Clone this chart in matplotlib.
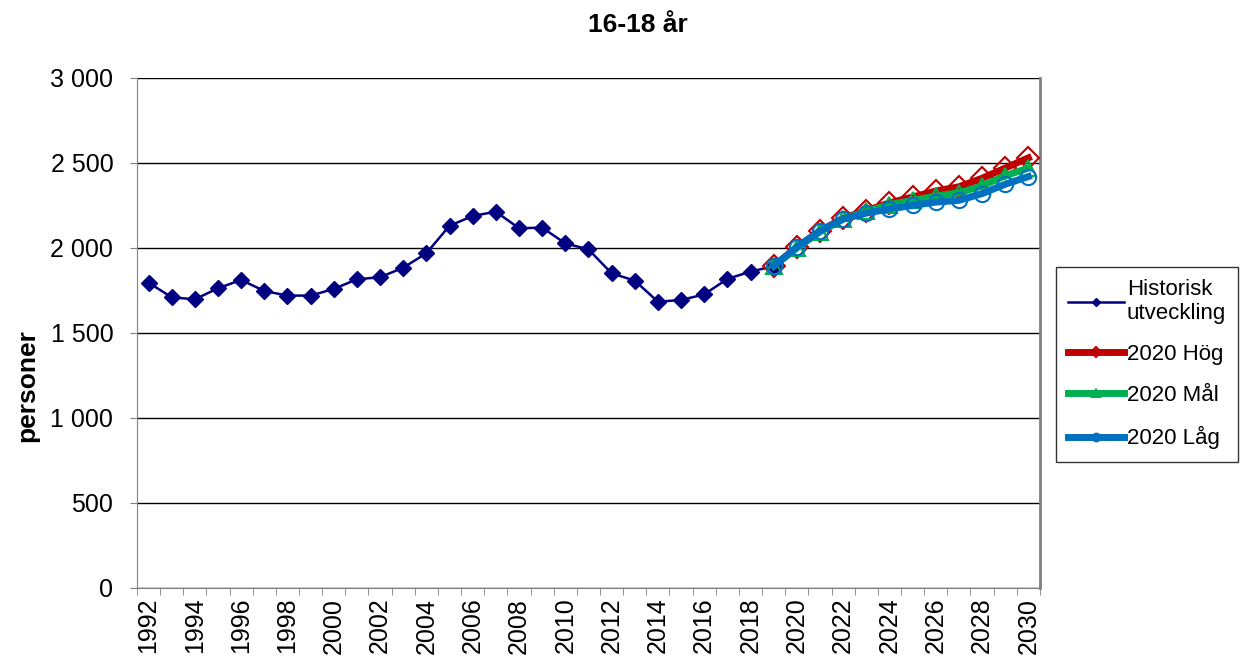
import numpy as np
import matplotlib
matplotlib.use('Agg')
import matplotlib.pyplot as plt
from matplotlib.ticker import FuncFormatter, MultipleLocator

plt.rcParams['font.family'] = ['Liberation Sans', 'DejaVu Sans']

# historical values 1992-2019
hist_years = list(range(1992, 2020))
hist_values = [1796, 1710, 1698, 1763, 1812, 1747, 1720, 1720, 1759, 1816,
               1828, 1884, 1969, 2131, 2188, 2214, 2116, 2120, 2027, 1992,
               1851, 1808, 1684, 1694, 1727, 1818, 1861, 1893]

# forecasts 2019-2030
prog_years = list(range(2019, 2031))
hog = [1893, 2005, 2100, 2175, 2220, 2265, 2300, 2335, 2360, 2410, 2470, 2530]
mal = [1893, 2000, 2095, 2170, 2215, 2255, 2280, 2305, 2325, 2365, 2425, 2470]
lag = [1893, 2005, 2100, 2170, 2205, 2230, 2250, 2270, 2280, 2320, 2375, 2420]

fig = plt.figure(figsize=(12.45, 6.62), dpi=100)
ax = fig.add_axes([0.110, 0.1118, 0.7253, 0.7704])

ax.plot(hist_years, hist_values, color='#000080', lw=1.8, marker='D',
        ms=8.5, label='Historisk\nutveckling', zorder=3)
ax.plot(prog_years, hog, color='#C00000', lw=5, marker='D', ms=11,
        mfc='none', mew=1.5, label='2020 Hög', zorder=4)
ax.plot(prog_years, mal, color='#00B050', lw=5, marker='^', ms=11,
        mfc='none', mew=1.5, label='2020 Mål', zorder=5)
ax.plot(prog_years, lag, color='#0070C0', lw=5, marker='o', ms=11,
        mfc='none', mew=1.5, label='2020 Låg', zorder=6)

ax.set_ylim(0, 3000)
ax.yaxis.set_major_locator(MultipleLocator(500))
ax.yaxis.set_major_formatter(FuncFormatter(lambda v, p: f'{int(v):,}'.replace(',', ' ')))
ax.grid(axis='y', color='black', lw=1)
ax.set_axisbelow(True)

ax.set_xlim(1991.5, 2030.5)
ax.set_xticks(range(1992, 2031, 2))
ax.set_xticklabels([str(y) for y in range(1992, 2031, 2)], rotation=90)
ax.set_xticks(np.arange(1991.5, 2031, 1), minor=True)
ax.tick_params(axis='x', which='major', length=0, labelsize=18, pad=7)
ax.tick_params(axis='x', which='minor', length=5, color='#808080')
ax.tick_params(axis='y', length=5, labelsize=18, color='#808080', pad=12)

for s in ['left', 'right', 'bottom']:
    ax.spines[s].set_color('#808080')
ax.spines['right'].set_linewidth(2)
ax.spines['top'].set_visible(False)

fig.text(0.512, 0.962, '16-18 år', ha='center', va='center',
         fontsize=19, fontweight='bold')
fig.text(0.022, 0.418, 'personer', ha='center', va='center', rotation=90,
         fontsize=19, fontweight='bold')

leg = ax.legend(loc='upper left', bbox_to_anchor=(0.848, 0.597),
                bbox_transform=fig.transFigure, fontsize=16, frameon=True,
                fancybox=False, edgecolor='black', labelspacing=0.9,
                handlelength=2.5, handletextpad=0.15, borderpad=0.55,
                borderaxespad=0, markerscale=0.5)
leg.get_frame().set_linewidth(1)
for t in leg.get_texts():
    t.set_multialignment('left')

fig.savefig('out.png', dpi=100)
